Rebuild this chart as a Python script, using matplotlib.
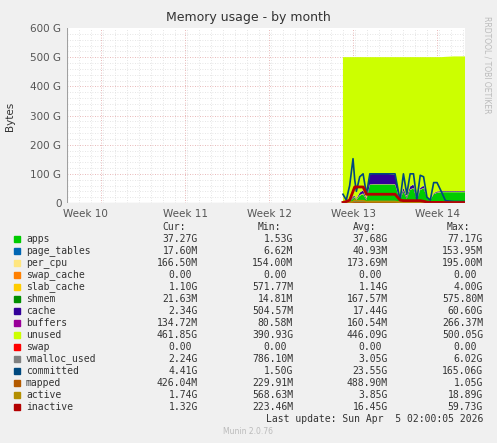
import matplotlib
matplotlib.use("Agg")
import matplotlib.pyplot as plt
import numpy as np

weeks = [10, 11, 12, 13, 14]
week_labels = ["Week 10", "Week 11", "Week 12", "Week 13", "Week 14"]
t = [12.88,12.92,12.96,13.0,13.02,13.04,13.08,13.12,13.16,13.2,13.25,13.3,13.4,13.5,13.56,13.6,13.64,13.68,13.72,13.76,13.8,13.84,13.88,13.92,13.96,14.0,14.05,14.1,14.2,14.3,14.37]
apps = [2,3,5,15,20,10,25,30,10,62,63,63,63,63,10,40,15,45,50,10,45,50,20,10,30,35,37,37,37,37,37]
page_tables = [0.05]*31
per_cpu = [0.17]*31
swap_cache = [0]*31
slab_cache = [0.6,0.6,0.8,1.5,2,1.5,2,2.5,1,1,1,1,1,1,0.8,1.2,1,1.2,1.3,0.8,1.2,1.2,0.9,0.8,1,1.1,1.1,1.1,1.1,1.1,1.1]
shmem = [0.02,0.02,0.03,0.2,0.3,0.2,0.3,0.4,0.2,0.5,0.5,0.5,0.5,0.5,0.1,0.2,0.1,0.2,0.2,0.1,0.1,0.1,0.05,0.03,0.03,0.02,0.02,0.02,0.02,0.02,0.02]
cache = [0.5,0.5,1,5,3,2,8,10,3,35,35,35,35,33,2,10,5,10,12,2,5,8,2,1,2,3,2.5,2.3,2.3,2.3,2.3]
buffers = [0.1,0.1,0.1,0.2,0.2,0.2,0.2,0.2,0.2,0.2,0.2,0.2,0.2,0.2,0.1,0.15,0.1,0.15,0.15,0.1,0.15,0.15,0.1,0.1,0.12,0.13,0.13,0.13,0.13,0.13,0.13]
unused = [496.6,495.6,492.9,478.0,474.3,486.0,464.4,456.7,485.4,401.1,400.1,400.1,400.1,402.1,486.8,448.3,478.5,443.3,436.2,486.8,448.3,440.4,476.7,487.9,466.7,460.6,459.1,460.3,461.8,461.8,461.8]
swap = [0]*31
vmalloc_used = [1,1,1.5,3,4,3,4,5,3,5,5,5,5,5,2,4,3,4,4,2,4,4,3,2,3,3,2.5,2.3,2.2,2.2,2.2]
committed = [30,10,60,152,80,40,90,100,30,100,100,100,100,100,10,100,30,100,100,10,95,90,20,10,70,70,40,8,5,5,4.4]
mapped = [0.3,0.3,0.4,0.8,1,0.8,0.9,1,0.6,0.7,0.7,0.7,0.7,0.7,0.4,0.5,0.4,0.5,0.5,0.4,0.5,0.5,0.4,0.4,0.4,0.43,0.43,0.43,0.43,0.43,0.43]
active = [1,1,2,5,10,8,8,8,5,5,5,5,5,5,3,3,3,3,3,3,3,3,2,2,2,2,2,1.8,1.7,1.7,1.7]
inactive = [2,5,10,40,55,55,55,55,30,30,30,30,30,30,10,8,8,8,8,8,8,6,3,2,2,2,2,1.5,1.3,1.3,1.3]

stack_names = ["apps","page_tables","per_cpu","swap_cache","slab_cache","shmem","cache","buffers","unused","swap"]
stack_vals = [apps,page_tables,per_cpu,swap_cache,slab_cache,shmem,cache,buffers,unused,swap]
stack_cols = ["#00CC00","#0066B3","#FFE680","#FF8000","#FFCC00","#008F00","#330099","#990099","#CCFF00","#FF0000"]
line_names = ["vmalloc_used","committed","mapped","active","inactive"]
line_vals = [vmalloc_used,committed,mapped,active,inactive]
line_cols = ["#808080","#00487D","#B35A00","#B38F00","#B30000"]

legend_rows = [
 ("apps","37.27G","1.53G","37.68G","77.17G"),
 ("page_tables","17.60M","6.62M","40.93M","153.95M"),
 ("per_cpu","166.50M","154.00M","173.69M","195.00M"),
 ("swap_cache","0.00","0.00","0.00","0.00"),
 ("slab_cache","1.10G","571.77M","1.14G","4.00G"),
 ("shmem","21.63M","14.81M","167.57M","575.80M"),
 ("cache","2.34G","504.57M","17.44G","60.60G"),
 ("buffers","134.72M","80.58M","160.54M","266.37M"),
 ("unused","461.85G","390.93G","446.09G","500.05G"),
 ("swap","0.00","0.00","0.00","0.00"),
 ("vmalloc_used","2.24G","786.10M","3.05G","6.02G"),
 ("committed","4.41G","1.50G","23.55G","165.06G"),
 ("mapped","426.04M","229.91M","488.90M","1.05G"),
 ("active","1.74G","568.63M","3.85G","18.89G"),
 ("inactive","1.32G","223.46M","16.45G","59.73G"),
]
colors_all = stack_cols + line_cols

W, H = 497, 443
fig = plt.figure(figsize=(W/100, H/100), dpi=100, facecolor="#F0F0F0")
ax = fig.add_axes([67/W, 1-203/H, (465-67)/W, (203-28)/H])
ax.set_facecolor("white")
ax.set_xlim(9.595, 14.333)
ax.set_ylim(0, 600)

ax.stackplot(t, *stack_vals, colors=stack_cols, linewidth=0)
for v, c, n in zip(line_vals, line_cols, line_names):
    ax.plot(t, v, color=c, lw=2 if n == "inactive" else 1.2)

for y in range(20, 600, 20):
    ax.axhline(y, color="#DDDDDD" if y % 100 else "#E0A0A0", lw=0.6, ls=(0, (1, 2)), zorder=0.5)
for d in np.arange(9.6, 14.333, 1/7):
    ax.axvline(d, color="#DDDDDD", lw=0.6, ls=(0, (1, 2)), zorder=0.5)
for w in weeks:
    ax.axvline(w, color="#E0A0A0", lw=0.6, ls=(0, (1, 2)), zorder=0.5)

ax.set_xticks([9.82, 11, 12, 13, 14])
ax.set_xticklabels(week_labels)
ax.set_yticks(range(0, 601, 100))
ax.set_yticklabels([f"{v} G" if v else "0" for v in range(0, 601, 100)])
ax.tick_params(labelsize=7.5, colors="#555555", length=0, pad=4)
for s in ax.spines.values():
    s.set_visible(False)
ax.axhline(0, color="#A0A0A0", lw=0.8)
ax.axvline(9.595, color="#A0A0A0", lw=0.8)

fig.text(248/W, 1-18/H, "Memory usage - by month", ha="center", va="center", fontsize=9, color="#333333")
fig.text(10/W, 1-116/H, "Bytes", rotation=90, ha="center", va="center", fontsize=7.5, color="#333333")
fig.text(487/W, 1-65/H, "RRDTOOL / TOBI OETIKER", rotation=270, ha="center", va="center", fontsize=5.5, color="#BBBBBB")

mono = "DejaVu Sans Mono"
fs = 7
hy = 227
for x, lab in [(186, "Cur:"), (281, "Min:"), (376, "Avg:"), (470, "Max:")]:
    fig.text(x/W, 1-hy/H, lab, ha="right", va="center", fontsize=fs, family=mono, color="#333333")
for i, (row, c) in enumerate(zip(legend_rows, colors_all)):
    y = 239 + 12*i
    fig.patches.append(plt.Rectangle((14/W, 1-(y+3)/H), 6/W, 6/H, transform=fig.transFigure, color=c))
    fig.text(26/W, 1-y/H, row[0], ha="left", va="center", fontsize=fs, family=mono, color="#333333")
    for x, v in zip([198, 293, 388, 483], row[1:]):
        if v == "0.00":
            x -= 6
        fig.text(x/W, 1-y/H, v, ha="right", va="center", fontsize=fs, family=mono, color="#333333")
fig.text(483/W, 1-419/H, "Last update: Sun Apr  5 02:00:05 2026", ha="right", va="center", fontsize=fs, family=mono, color="#333333")
fig.text(248/W, 1-432/H, "Munin 2.0.76", ha="center", va="center", fontsize=5.5, color="#BBBBBB")

fig.savefig("out.png", dpi=100, facecolor=fig.get_facecolor())
